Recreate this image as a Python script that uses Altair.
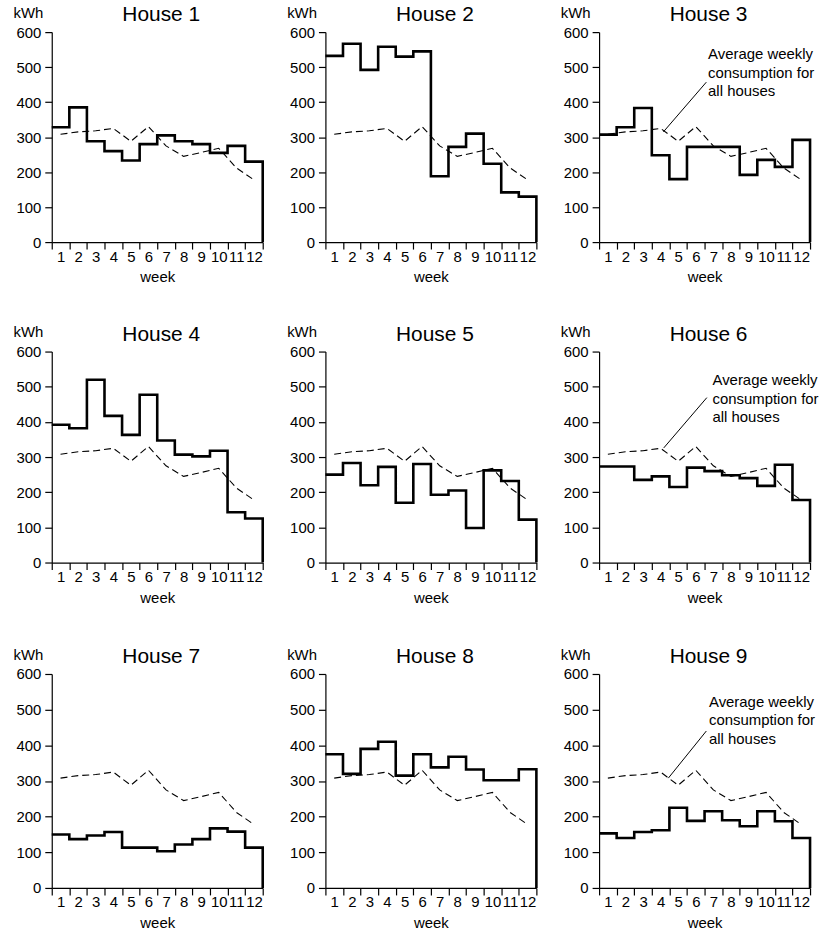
import altair as alt
import pandas as pd

FONT = "Liberation Sans"

weeks = list(range(1, 13))
average = [308, 315, 318, 325, 288, 330, 275, 245, 256, 268, 212, 178]

house_names = ["House 1", "House 2", "House 3", "House 4", "House 5",
               "House 6", "House 7", "House 8", "House 9"]
house1 = [328, 385, 288, 260, 233, 280, 305, 288, 280, 255, 275, 230]
house2 = [532, 567, 492, 558, 530, 545, 188, 272, 310, 224, 142, 130]
house3 = [307, 328, 383, 248, 180, 272, 272, 272, 192, 235, 215, 292]
house4 = [392, 382, 520, 417, 363, 477, 347, 307, 302, 318, 143, 125]
house5 = [250, 283, 220, 272, 170, 280, 193, 205, 98, 262, 232, 122]
house6 = [273, 273, 235, 245, 215, 270, 260, 248, 240, 218, 278, 178]
house7 = [150, 137, 147, 157, 113, 113, 103, 122, 137, 167, 158, 113]
house8 = [375, 320, 390, 410, 315, 375, 338, 368, 332, 302, 302, 333]
house9 = [153, 140, 157, 162, 225, 188, 215, 190, 173, 215, 187, 140]
house_values = [house1, house2, house3, house4, house5, house6, house7, house8, house9]

note_text = "Average weekly\nconsumption for\nall houses"
# annotation placement (text anchor, leader line start/end) for houses 3, 6, 9
note_place = {
    "House 3": dict(tx=6.2, ty=556, x=6.1, y=457, x2=3.66, y2=315),
    "House 6": dict(tx=6.45, ty=538, x=6.13, y=469, x2=3.68, y2=326),
    "House 9": dict(tx=6.25, ty=541, x=6.1, y=440, x2=3.94, y2=308),
}

W = 212
row_heights = [211, 212, 215]


def panel(name, vals, H):
    # step outline: each week spans [week-1, week]; closes down to zero at the end
    xs = [w - 1 for w in weeks] + [weeks[-1], weeks[-1]]
    ys = list(vals) + [vals[-1], 0]
    step_df = pd.DataFrame({"x": xs, "kwh": ys, "order": list(range(len(xs)))})
    avg_df = pd.DataFrame({"x": [w - 0.5 for w in weeks], "kwh": average})

    xenc = alt.X("x:Q", scale=alt.Scale(domain=[0, 12], nice=False, zero=False),
                 axis=alt.Axis(values=list(range(0, 13)), title="week",
                               labelExpr="datum.value < 12 ? datum.value + 1 : ''",
                               labelOffset=W / 24, labelFlush=False, labelOverlap=False,
                               labelBound=False, grid=False, tickSize=7, labelPadding=0,
                               titlePadding=6, titleFontWeight="normal"))
    yenc = alt.Y("kwh:Q", scale=alt.Scale(domain=[0, 600], nice=False),
                 axis=alt.Axis(values=[0, 100, 200, 300, 400, 500, 600], title="kWh",
                               titleAngle=0, titleAlign="right", titleBaseline="alphabetic",
                               titleX=-9, titleY=-15, titleFontWeight="normal",
                               grid=False, tickSize=7, labelPadding=4))

    step = alt.Chart(step_df).mark_line(
        interpolate="step-after", color="black", strokeWidth=2.6, strokeJoin="miter"
    ).encode(x=xenc, y=yenc, order="order:Q")

    avg = alt.Chart(avg_df).mark_line(
        color="black", strokeWidth=1.1, strokeDash=[7, 4]
    ).encode(x=xenc, y=yenc)

    title = alt.Chart(pd.DataFrame({"house": [name]})).mark_text(
        font=FONT, fontSize=21, color="black", baseline="alphabetic", align="center"
    ).encode(text="house:N", x=alt.value(W / 2 + 4), y=alt.value(-11))

    layers = [step, avg, title]
    if name in note_place:
        p = note_place[name]
        note_df = pd.DataFrame({"x": [p["tx"]], "kwh": [p["ty"]], "label": [note_text]})
        note = alt.Chart(note_df).mark_text(
            font=FONT, fontSize=15, color="black", align="left", baseline="top",
            lineBreak="\n", lineHeight=18.5
        ).encode(x=xenc, y=yenc, text="label:N")
        lead_df = pd.DataFrame({"x": [p["x"]], "kwh": [p["y"]],
                                "x2": [p["x2"]], "kwh2": [p["y2"]]})
        lead = alt.Chart(lead_df).mark_rule(color="black", strokeWidth=1).encode(
            x=xenc, y=yenc, x2="x2:Q", y2="kwh2:Q")
        layers += [lead, note]

    return alt.layer(*layers).properties(width=W, height=H)


rows = []
for r in range(3):
    panels = [panel(house_names[r * 3 + c], house_values[r * 3 + c], row_heights[r])
              for c in range(3)]
    rows.append(alt.hconcat(*panels, spacing=15))

lower = alt.vconcat(rows[1], rows[2], spacing=41)
chart = alt.vconcat(rows[0], lower, spacing=39).properties(
    padding={"left": 13, "top": 2, "right": 0, "bottom": 0},
    background="white",
).configure_view(stroke=None).configure_axis(
    labelFont=FONT, labelFontSize=15, labelColor="black",
    titleFont=FONT, titleFontSize=15, titleColor="black",
    domainColor="black", domainWidth=1.2, tickColor="black", tickWidth=1.2,
)

chart.save("out.html", embed_options={"renderer": "svg", "actions": False})
